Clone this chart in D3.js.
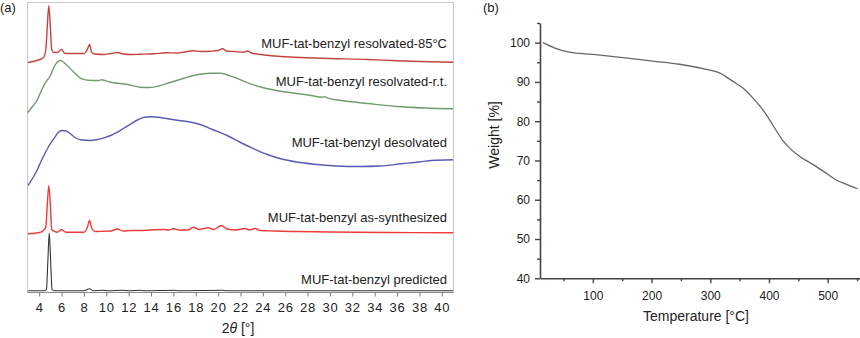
<!DOCTYPE html>
<html>
<head>
<meta charset="utf-8">
<script src="https://cdn.jsdelivr.net/npm/d3@7"></script>
<style>
  body { margin: 0; background: #fff; }
  svg { display: block; font-family: "Liberation Sans", Arial, sans-serif; }
  .lbl { font-size: 13px; fill: #222; }
</style>
</head>
<body>
<svg width="860" height="338"></svg>
<script>
const width = 860;
const height = 338;

// ---- (a) PXRD patterns, stacked intensity [2theta, a.u.] ----
const ticks2theta = [4, 6, 8, 10, 12, 14, 16, 18, 20, 22, 24, 26, 28, 30, 32, 34, 36, 38, 40];

const resolved85 = [
  [3.0, 230], [3.8, 232], [4.4, 235], [4.6, 244], [4.72, 265], [4.86, 287], [5.0, 265], [5.12, 243],
  [5.3, 240], [5.6, 240], [6.0, 243], [6.3, 239], [7.0, 239], [8.0, 239], [8.3, 243], [8.5, 248],
  [8.7, 240], [9.0, 238.5], [9.8, 238], [10.4, 239], [11.0, 240], [11.5, 238.5], [12.2, 238],
  [13.0, 238.3], [14.2, 238.7], [15.4, 239.7], [16.3, 239.5], [17.0, 240.5], [17.8, 241.7],
  [18.5, 241], [19.3, 241.3], [20.0, 242], [20.4, 243.7], [20.8, 241.3], [21.5, 241], [22.3, 240.3],
  [22.6, 241.5], [23.0, 239.5], [23.8, 238], [25.0, 236.5], [26.8, 235.3], [28.5, 234.5],
  [30.0, 234], [33.4, 233], [36.0, 231.7], [38.0, 231], [41.0, 230.3]
];

const resolvedRT = [
  [3.0, 180], [3.4, 186], [3.8, 192], [4.2, 202], [4.5, 208.7], [5.0, 217], [5.4, 227], [5.9, 232],
  [6.5, 227], [7.1, 220.3], [7.8, 213.7], [8.7, 212], [9.3, 212], [9.6, 212.8], [10.0, 211.5],
  [10.4, 210.3], [11.9, 208], [13.0, 205.3], [13.8, 205], [14.6, 206.3], [15.7, 210], [16.3, 212],
  [17.8, 217], [19.3, 219.3], [20.2, 219.3], [21.4, 215.3], [22.9, 208.7], [24.4, 203.7],
  [26.2, 200.3], [28.3, 197], [29.3, 195.3], [29.5, 195.9], [29.8, 194.3], [31.0, 192], [33.4, 189],
  [36.0, 186], [38.5, 184.5], [41.0, 183.7]
];

const desolvated = [
  [3.0, 107], [3.4, 114], [3.8, 122], [4.2, 132], [4.5, 138.7], [4.9, 147], [5.3, 153.7], [5.7, 160],
  [6.0, 162], [6.4, 161.5], [6.8, 158.7], [7.2, 155], [7.7, 152.7], [8.6, 152], [9.2, 153],
  [9.8, 154.7], [10.4, 157], [11.0, 160.3], [11.6, 164.5], [12.2, 168.7], [12.8, 172.5],
  [13.4, 175.3], [14.0, 175.7], [14.6, 175.3], [15.5, 173.7], [16.5, 172], [17.5, 170.5],
  [18.4, 168], [19.5, 163], [20.8, 157], [22.0, 150], [23.2, 143.7], [24.4, 138], [25.6, 133.7],
  [27.0, 130.5], [28.9, 128], [30.5, 126.5], [32.8, 126], [34.5, 126.5], [36.4, 128.7],
  [38.0, 130.5], [39.1, 132], [41.0, 132.7]
];

const asSynthesized = [
  [3.0, 58.7], [4.1, 60.3], [4.5, 63.7], [4.6, 66], [4.72, 87], [4.86, 107], [5.0, 87], [5.12, 63],
  [5.6, 60.3], [6.0, 62.7], [6.4, 60.3], [8.0, 60.3], [8.3, 65], [8.5, 72], [8.7, 64], [9.0, 61],
  [9.8, 61.3], [10.4, 61.5], [11.0, 63.5], [11.5, 61.5], [12.2, 62], [13.0, 62], [14.0, 62.5],
  [15.2, 63], [15.6, 62.5], [16.0, 63.7], [16.5, 62.5], [17.3, 62.5], [17.8, 65.3], [18.3, 63],
  [19.1, 64.7], [19.6, 63], [20.3, 67], [20.8, 63.5], [21.6, 62.5], [22.4, 64], [22.8, 62.5],
  [23.3, 64], [23.8, 62], [25.0, 61.5], [27.0, 61], [30.0, 60.5], [35.0, 60], [41.0, 59.7]
];

const predicted = [
  [3.0, 1.8], [4.5, 1.8], [4.65, 3], [4.77, 30], [4.9, 59.5], [5.03, 30], [5.15, 3], [5.3, 1.8],
  [8.0, 1.8], [8.5, 3.8], [8.8, 1.8], [9.7, 2.3], [10.2, 1.8], [11.5, 2.3], [12.0, 1.8], [13.0, 2.3],
  [13.5, 1.8], [16.0, 2.3], [16.5, 1.8], [20.3, 2.3], [20.8, 1.8], [41.0, 1.8]
];

const xrdNames = [
  'MUF-tat-benzyl resolvated-85°C',
  'MUF-tat-benzyl resolvated-r.t.',
  'MUF-tat-benzyl desolvated',
  'MUF-tat-benzyl as-synthesized',
  'MUF-tat-benzyl predicted'
];
const xrdSeries = [resolved85, resolvedRT, desolvated, asSynthesized, predicted];
const xrdColors = ['#c4433f', '#6f9d6e', '#5a5ab4', '#ee3b3b', '#333333'];
// label baseline, in stacked a.u.
const labelLevels = [244.5, 206.5, 145.5, 70.5, 8.5];

// ---- (b) TGA [temperature °C, weight %] ----
const tgaTicksX = [100, 200, 300, 400, 500];
const tgaTicksY = [40, 50, 60, 70, 80, 90, 100];
const tga = [
  [15, 100], [37.7, 98.5], [60, 97.6], [100, 97.0], [151, 96.2], [202, 95.3], [247.6, 94.5],
  [293, 93.2], [315.6, 92.3], [338, 90.2], [355, 88.5], [372, 86], [389, 83], [400.8, 80.4],
  [412, 77.7], [423, 75.2], [434.8, 73.2], [451.8, 71.1], [474.5, 69], [497, 66.8], [514, 65.1],
  [531, 64.0], [551, 62.8]
];

const svg = d3.select('svg');

// ================= panel (a) =================
const xA = d3.scaleLinear().domain([3, 41]).range([28, 453]);
const yA = d3.scaleLinear().domain([0, 290]).range([292.5, 2.5]);

svg.append('rect')
    .attr('x', 27.5).attr('y', 2.5)
    .attr('width', 426).attr('height', 290)
    .attr('fill', 'none')
    .attr('stroke', '#c8c8c8');

const xAxisA = d3.axisBottom(xA)
    .tickValues(ticks2theta)
    .tickFormat(d3.format('d'))
    .tickSize(4)
    .tickSizeOuter(0)
    .tickPadding(6);

const xAxisAG = svg.append('g')
    .attr('transform', 'translate(0,' + yA(0) + ')')
    .call(xAxisA);
xAxisAG.select('.domain').attr('stroke', '#8a8a8a').attr('d', 'M27.5,0H453.5');
xAxisAG.selectAll('.tick line').attr('stroke', '#777');
xAxisAG.selectAll('.tick text')
    .attr('fill', '#222')
    .style('font-size', '13px')
    .style('letter-spacing', '0.8px')
    .style('font-family', '"Liberation Sans", Arial, sans-serif');

const lineA = d3.line()
    .x(d => xA(d[0]))
    .y(d => yA(d[1]))
    .curve(d3.curveMonotoneX);

svg.append('g').selectAll('path')
    .data(xrdSeries)
    .enter()
    .append('path')
    .attr('d', lineA)
    .attr('fill', 'none')
    .attr('stroke', (d, i) => xrdColors[i])
    .attr('stroke-width', (d, i) => i === 4 ? 1.1 : 1.4);

svg.append('g').selectAll('text')
    .data(xrdNames)
    .enter()
    .append('text')
    .attr('class', 'lbl')
    .attr('x', 447)
    .attr('y', (d, i) => yA(labelLevels[i]))
    .attr('text-anchor', 'end')
    .text(d => d);

const xTitle = svg.append('text')
    .attr('x', 238)
    .attr('y', 333)
    .attr('text-anchor', 'middle')
    .style('font-size', '14px')
    .attr('fill', '#222');
xTitle.append('tspan').text('2');
xTitle.append('tspan').style('font-style', 'italic').text('θ');
xTitle.append('tspan').text(' [°]');

svg.append('text')
    .attr('x', 0).attr('y', 12)
    .style('font-size', '13px')
    .attr('fill', '#222')
    .text('(a)');

// ================= panel (b) =================
const xB = d3.scaleLinear().domain([10, 555]).range([540, 860]);
const yB = d3.scaleLinear().domain([40, 105]).range([278.3, 23]);

const xMajorB = svg.append('g')
    .attr('transform', 'translate(0,' + yB(40) + ')')
    .call(d3.axisBottom(xB).tickValues(tgaTicksX).tickSize(5).tickSizeOuter(0).tickPadding(8));
const xMinorB = svg.append('g')
    .attr('transform', 'translate(0,' + yB(40) + ')')
    .call(d3.axisBottom(xB).tickValues([50, 150, 250, 350, 450, 550]).tickSize(3).tickSizeOuter(0).tickFormat(''));
const yMajorB = svg.append('g')
    .attr('transform', 'translate(' + xB(10) + ',0)')
    .call(d3.axisLeft(yB).tickValues(tgaTicksY).tickSize(5).tickSizeOuter(0).tickPadding(5));
const yMinorB = svg.append('g')
    .attr('transform', 'translate(' + xB(10) + ',0)')
    .call(d3.axisLeft(yB).tickValues([45, 55, 65, 75, 85, 95, 105]).tickSize(3).tickSizeOuter(0).tickFormat(''));

[xMajorB, xMinorB, yMajorB, yMinorB].forEach(g => {
    g.select('.domain').attr('stroke', '#444').attr('stroke-width', 1.6);
    g.selectAll('.tick line').attr('stroke', '#444').attr('stroke-width', 1.4);
    g.selectAll('.tick text')
        .attr('fill', '#222')
        .style('font-size', '12px')
        .style('font-family', '"Liberation Sans", Arial, sans-serif');
});
xMinorB.select('.domain').remove();
yMinorB.select('.domain').remove();

const lineB = d3.line()
    .x(d => xB(d[0]))
    .y(d => yB(d[1]))
    .curve(d3.curveMonotoneX);

svg.append('path')
    .datum(tga)
    .attr('d', lineB)
    .attr('fill', 'none')
    .attr('stroke', '#666')
    .attr('stroke-width', 1.3);

svg.append('text')
    .attr('x', 696).attr('y', 321)
    .attr('text-anchor', 'middle')
    .style('font-size', '14px')
    .attr('fill', '#222')
    .text('Temperature [°C]');

svg.append('text')
    .attr('transform', 'translate(499,135) rotate(-90)')
    .attr('text-anchor', 'middle')
    .style('font-size', '14px')
    .attr('fill', '#222')
    .text('Weight [%]');

svg.append('text')
    .attr('x', 483).attr('y', 12)
    .style('font-size', '13px')
    .attr('fill', '#222')
    .text('(b)');
</script>
</body>
</html>
